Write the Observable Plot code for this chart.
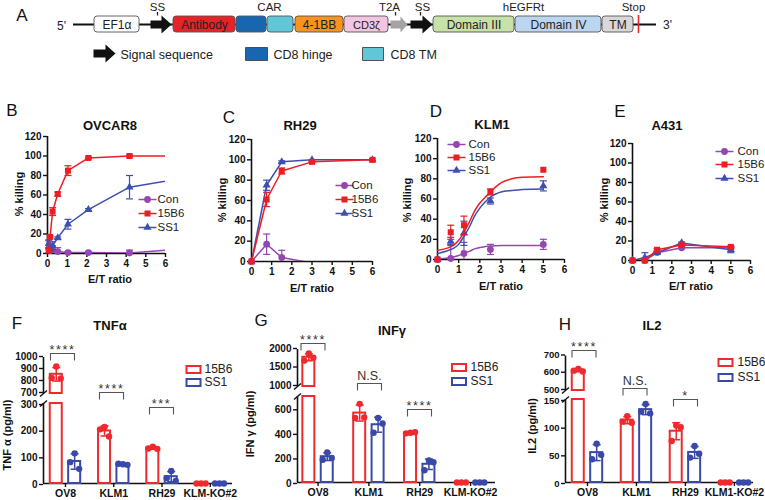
<!DOCTYPE html>
<html><head><meta charset="utf-8">
<script src="https://cdn.jsdelivr.net/npm/d3@7"></script>
<script src="https://cdn.jsdelivr.net/npm/@observablehq/plot@0.6"></script>
<style>
body{margin:0;background:#fff;}
#fig{position:relative;width:765px;height:500px;overflow:hidden;background:#fff;font-family:"Liberation Sans",Arial,sans-serif;color:#111;}
.lbl{position:absolute;white-space:nowrap;line-height:1;}
.panel{position:absolute;}
</style></head><body><div id="fig"></div>
<script>
// ---------------- Panel A: construct ----------------
const partLabels = ["EF1α","Antibody","","","4-1BB","CD3ζ","Domain III","Domain IV","TM"];
const partX1 = [94,173,236,267,295,344,433,515,602];
const partX2 = [139,235,266,293,343,388,514,601,633];
const partFill = ["#ffffff","#e92128","#1866b0","#61c6d6","#f7931e","#f2c6e0","#c7e1a9","#bdd6ef","#d8d8d8"];
const arrowX1 = [150,390,410];
const arrowX2 = [171,407,432];
const arrowFill = ["#111","#a3a3a3","#111"];
const topLabels = ["SS","CAR","T2A","SS","hEGFRt","Stop"];
const topLabelX = [157,269,389,422,523,633];
const topTickX = [157,395,420];
const backbone = [73,656];
const stopX = 638;
const legendA = ["Signal sequence","CD8 hinge","CD8 TM"];

// ---------------- Panels B-E: % killing ----------------
const etTicks = [0,1,2,3,4,5,6];
const pctTicks = [0,20,40,60,80,100,120];
const seriesNames = ["Con","15B6","SS1"];

const ovcarET = [0.065,0.13,0.26,0.52,1.04,2.08,4.17,8.33];
const ovcarCon = [5,3,4,2,1,1,0.5,7];
const ovcarConErr = [8,3,4,4,1,1,3,0];
const ovcar15B6 = [3,17,43,61,85,98,100,100];
const ovcar15B6Err = [2,1,4,2,5,1,1,0];
const ovcarSS1 = [10,5,8,16,30,45,68,82];
const ovcarSS1Err = [4,3,4,1,5,1,12,0];

const rhET = [0,0.75,1.5,3,6];
const rhCon = [0,17,4,-1.5,-1.5];
const rhConErr = [0,10,7,0,0];
const rh15B6 = [0,61,89,98,100];
const rh15B6Err = [0,7,3,1,1];
const rhSS1 = [0,75,98,100,100];
const rhSS1Err = [0,5,1,0,0];

const klmET = [0,0.625,1.25,2.5,5];
const klmCon = [0,1,6,10,15];
const klmConErr = [0,14,11,5,5];
const klm15B6 = [0,27,34,67,89];
const klm15B6Err = [0,7,9,3,0];
const klmSS1 = [0,18,26,58,73];
const klmSS1Err = [0,4,12,3,5];
const klmFitX = [0,0.5,0.75,1,1.25,1.5,1.75,2,2.25,2.5,2.75,3,3.5,4,5];
const klmFitCon = [0.5,1.5,2.5,4,6,8,10.5,12,12.8,13.3,13.6,13.8,14,14,14];
const klmFit15B6 = [9,11.5,14,19,27,37,48,56,61.5,67,72,76,80,81.5,82];
const klmFitSS1 = [6,9,11,15,23,32,43,51,57,62,65,67,68.5,69.5,70];

const a431ET = [0,0.625,1.25,2.5,5];
const a431Con = [0,0,8,13,13];
const a431ConErr = [0,0,1,1,1];
const a43115B6 = [0,0,11,16,14];
const a43115B6Err = [0,0,1,1,1];
const a431SS1 = [0,3,8,18,11];
const a431SS1Err = [0,5,1,1,3];

// ---------------- Panels F-H: cytokines ----------------
const cytoCats = ["OV8","KLM1","RH29","KLM-KO#2"];
const il2Cats = ["OV8","KLM1","RH29","KLM1-KO#2"];
const groupNames = ["15B6","SS1"];
const tnf15B6 = [[830,925,825],[203,212,176],[131,138,130],[0,0,0]];
const tnfSS1 = [[80,113,55],[74,72,70],[20,47,10],[0,0,0]];
const ifn15B6 = [[1700,1890,1780],[525,640,530],[400,405,410],[0,0,0]];
const ifnSS1 = [[185,245,200],[405,525,480],[100,180,165],[0,0,0]];
const il215B6 = [[615,625,610],[110,120,108],[75,103,100],[0,0,0]];
const il2SS1 = [[42,70,50],[128,142,125],[45,66,52],[0,0,0]];
const tnfTicksLow = [0,100,200,300], tnfTicksHigh = [700,800,900,1000];
const ifnTicksLow = [0,200,400,600], ifnTicksHigh = [1000,1500,2000];
const il2TicksLow = [0,50,100,150], il2TicksHigh = [500,600,700];
const tnfSig = ["****","****","***"];
const ifnSig = ["****","N.S.","****"];
const il2Sig = ["****","N.S.","*"];

// ---------------- helpers ----------------
const fig = document.getElementById("fig");
const FONT = "'Liberation Sans', Arial, sans-serif";
const STYLE = {fontFamily: FONT, color: "#111", background: "transparent", overflow: "visible"};
const intFmt = d3.format("d");
function addText(text, x, y, {size=12, weight="normal", rotate=0, anchor="middle", color="#111"} = {}) {
  const d = document.createElement("div");
  d.className = "lbl";
  d.textContent = text;
  d.style.left = x + "px"; d.style.top = y + "px";
  d.style.fontSize = size + "px"; d.style.fontWeight = weight; d.style.color = color;
  const tx = anchor === "start" ? "0" : "-50%";
  d.style.transform = `translate(${tx},-50%)` + (rotate ? ` rotate(${rotate}deg)` : "");
  fig.append(d);
}
function place(svg, left, top) {
  const w = document.createElement("div");
  w.className = "panel"; w.style.left = left + "px"; w.style.top = top + "px";
  w.append(svg); fig.append(w);
}
const hline = w => ({draw(c){ c.moveTo(-w,0); c.lineTo(w,0); }});
const slash = {draw(c){ c.moveTo(-3.5,3); c.lineTo(3.5,-3); }};
const bracketSym = (w,h) => ({draw(c){ c.moveTo(-w/2,h); c.lineTo(-w/2,0); c.lineTo(w/2,0); c.lineTo(w/2,h); }});
const boxSym = (w,h) => ({draw(c){ c.rect(-w/2,-h/2,w,h); }});
const arrowSym = (L, bh=4, hh=9, hl=10) => ({draw(c){
  const a=-L/2, b=L/2;
  c.moveTo(a,-bh); c.lineTo(b-hl,-bh); c.lineTo(b-hl,-hh); c.lineTo(b,0);
  c.lineTo(b-hl,hh); c.lineTo(b-hl,bh); c.lineTo(a,bh); c.closePath();
}});

// ---------------- Panel A ----------------
{
  const parts = partLabels.map((t,i)=>({t, x1:partX1[i], x2:partX2[i], fill:partFill[i]}));
  const marks = [
    Plot.ruleY([24], {x1: ()=>backbone[0], x2: ()=>backbone[1], stroke:"#111", strokeWidth:2}),
    Plot.rect(parts, {x1:"x1", x2:"x2", y1:()=>16, y2:()=>32, fill:"fill", stroke:"#555", strokeWidth:0.9, rx:3}),
    Plot.text(parts.filter(d=>d.t!=="CD3ζ"), {x:d=>(d.x1+d.x2)/2, y:()=>24.5, text:"t", fontSize:12, fill:"#222"}),
    Plot.text(parts.filter(d=>d.t==="CD3ζ"), {x:d=>(d.x1+d.x2)/2, y:()=>24.5, text:"t", fontSize:11, fill:"#222"}),
    Plot.text(topLabels, {x:(d,i)=>topLabelX[i], y:()=>7, text:d=>d, fontSize:11.5, fill:"#222"}),
    Plot.ruleX(topTickX, {x:d=>d, y1:()=>12, y2:()=>15.5, stroke:"#222", strokeWidth:1.3}),
    Plot.ruleX([stopX], {x:d=>d, y1:()=>15, y2:()=>33, stroke:"#e92128", strokeWidth:1.6}),
    Plot.text(["5'"], {x:()=>61, y:()=>26, text:d=>d, fontSize:12, fill:"#222"}),
    Plot.text(["3'"], {x:()=>667, y:()=>25, text:d=>d, fontSize:12, fill:"#222"}),
    Plot.dot([0], {x:()=>104, y:()=>53, symbol:arrowSym(22), fill:"#111", stroke:"none"}),
    Plot.text([legendA[0]], {x:()=>120, y:()=>54, text:d=>d, textAnchor:"start", fontSize:12.5, fill:"#222"}),
    Plot.dot([0], {x:()=>256, y:()=>53.5, symbol:boxSym(22,13), fill:partFill[2], stroke:"#444", strokeWidth:0.9}),
    Plot.text([legendA[1]], {x:()=>273, y:()=>54, text:d=>d, textAnchor:"start", fontSize:12.5, fill:"#222"}),
    Plot.dot([0], {x:()=>372.5, y:()=>53.5, symbol:boxSym(21,13), fill:partFill[3], stroke:"#444", strokeWidth:0.9}),
    Plot.text([legendA[2]], {x:()=>390, y:()=>54, text:d=>d, textAnchor:"start", fontSize:12.5, fill:"#222"})
  ];
  arrowX1.forEach((x1,i)=>{
    const L = arrowX2[i]-x1;
    marks.push(Plot.dot([0], {x:()=>(x1+arrowX2[i])/2, y:()=>24, symbol: i===1 ? arrowSym(L,4,8,7) : arrowSym(L), fill:arrowFill[i], stroke:"none"}));
  });
  const svg = Plot.plot({width:765, height:70, margin:0,
    x:{domain:[0,765], range:[0,765], axis:null}, y:{domain:[0,70], range:[0,70], axis:null}, style:STYLE, marks});
  place(svg, 0, 0);
}

// ---------------- line panels ----------------
const C_CON = "#9447b0", C_B6 = "#ee1d25", C_SS1 = "#3d4faf";
function linePanel(c){
  const sx = d3.scaleLinear([0,6], c.xr), sy = d3.scaleLinear([0,120], c.yr);
  const marks = [
    Plot.ruleY([0], {x1:()=>0, x2:()=>6, strokeWidth:1.6, stroke:"#111"}),
    Plot.ruleX([0], {y1:()=>0, y2:()=>120, strokeWidth:1.6, stroke:"#111"}),
    Plot.axisX(etTicks, {tickSize:4, tickPadding:2, fontSize:10, fontWeight:"bold", strokeWidth:1.4, label:null, tickFormat:intFmt}),
    Plot.axisY(pctTicks, {tickSize:4, tickPadding:2, fontSize:10, fontWeight:"bold", strokeWidth:1.4, label:null, tickFormat:intFmt})
  ];
  for (const k of [0,2,1]) {
    const s = c.series[k];
    const rows = s.x.map((x,i)=>({x, y:s.y[i], e:s.e[i]}));
    const line = s.fitY ? s.fitX.map((x,i)=>({x, y:s.fitY[i]})) : rows;
    marks.push(Plot.line(line, {x:"x", y:"y", stroke:s.color, strokeWidth:1.5, curve: s.fitY ? "monotone-x" : "linear", clip:true}));
    const vis = rows.filter(d=>d.x<=6 && d.y>=0);
    const eb = vis.filter(d=>d.e>0);
    marks.push(Plot.ruleX(eb, {x:"x", y1:d=>Math.max(0,d.y-d.e), y2:d=>d.y+d.e, stroke:s.color, strokeWidth:1.2}));
    const caps = eb.flatMap(d=> d.y-d.e>0 ? [{x:d.x,y:d.y+d.e},{x:d.x,y:d.y-d.e}] : [{x:d.x,y:d.y+d.e}]);
    marks.push(Plot.dot(caps, {x:"x", y:"y", symbol:hline(3.5), stroke:s.color, strokeWidth:1.2, fill:"none"}));
    marks.push(Plot.dot(vis, {x:"x", y:"y", symbol:s.symbol, fill:s.color, stroke:"none", r:s.r}));
  }
  c.series.forEach((s,k)=>{
    const row = [{x:sx.invert(c.lg.mx), y:sy.invert(c.lg.ys[k]), tx:sx.invert(c.lg.tx), name:s.name}];
    marks.push(Plot.dot(row, {x:"x", y:"y", symbol:hline(9), stroke:s.color, strokeWidth:1.5, fill:"none"}));
    marks.push(Plot.dot(row, {x:"x", y:"y", symbol:s.symbol, fill:s.color, stroke:"none", r:s.r}));
    marks.push(Plot.text(row, {x:"tx", y:"y", text:"name", textAnchor:"start", fontSize:11.5, fill:"#222"}));
  });
  const svg = Plot.plot({width:c.w, height:c.h, marginLeft:c.xr[0], marginRight:c.w-c.xr[1], marginTop:c.yr[1], marginBottom:c.h-c.yr[0],
    x:{domain:[0,6], range:c.xr}, y:{domain:[0,120], range:c.yr}, style:STYLE, marks});
  place(svg, c.left, c.top);
}
function mk(x, vals, errs, fitX, fitY){
  const cols = [C_CON, C_B6, C_SS1], syms = ["circle","square","triangle"], rs = [3.4,3.4,3.0];
  return seriesNames.map((n,k)=>({name:n, x, y:vals[k], e:errs[k], color:cols[k], symbol:syms[k], r:rs[k], fitX, fitY: fitY ? fitY[k] : null}));
}
linePanel({left:0, top:110, w:180, h:180, xr:[47,165], yr:[143,26],
  series: mk(ovcarET, [ovcarCon,ovcar15B6,ovcarSS1], [ovcarConErr,ovcar15B6Err,ovcarSS1Err]),
  lg:{mx:147, tx:157, ys:[89,103,117]}});
linePanel({left:190, top:110, w:190, h:180, xr:[61,182], yr:[151,29],
  series: mk(rhET, [rhCon,rh15B6,rhSS1], [rhConErr,rh15B6Err,rhSS1Err]),
  lg:{mx:154, tx:161, ys:[75,89,103]}});
linePanel({left:380, top:110, w:190, h:180, xr:[57,184], yr:[149,28],
  series: mk(klmET, [klmCon,klm15B6,klmSS1], [klmConErr,klm15B6Err,klmSS1Err], klmFitX, [klmFitCon,klmFit15B6,klmFitSS1]),
  lg:{mx:76, tx:88, ys:[34,47,60]}});
linePanel({left:570, top:110, w:195, h:180, xr:[62,180], yr:[150,33],
  series: mk(a431ET, [a431Con,a43115B6,a431SS1], [a431ConErr,a43115B6Err,a431SS1Err]),
  lg:{mx:154, tx:167, ys:[41,54,68]}});

// ---------------- bar panels ----------------
const B_RED = "#ef2a2f", B_BLUE = "#3a49a8";
function barPanel(c){
  const sx = d3.scaleLinear(c.xd, c.xr), sy = d3.scaleLinear(c.yd, c.yr);
  const ppu = (c.xr[1]-c.xr[0])/(c.xd[1]-c.xd[0]);
  const u = px => px/ppu;
  const lowMax = c.yd[1], highMin = c.yd[2], top = c.yd[3];
  const bw = u(12);
  const fs = c.tickFont || 10;
  const marks = [
    Plot.ruleX([c.xd[0]], {x:d=>d, y1:()=>0, y2:()=>lowMax, stroke:"#111", strokeWidth:1.6}),
    Plot.ruleX([c.xd[0]], {x:d=>d, y1:()=>highMin, y2:()=>top, stroke:"#111", strokeWidth:1.6}),
    Plot.dot([lowMax, highMin], {x:()=>c.xd[0], y:d=>d, symbol:slash, stroke:"#111", strokeWidth:1.4, fill:"none"}),
    Plot.ruleY([0], {x1:()=>c.xd[0], x2:()=>c.xd[1], stroke:"#111", strokeWidth:1.6}),
    Plot.axisY(c.ticksLow, {tickSize:4, tickPadding:2, fontSize:fs, fontWeight:"bold", strokeWidth:1.4, label:null, tickFormat:intFmt, dy:1}),
    Plot.axisY(c.ticksHigh, {tickSize:4, tickPadding:2, fontSize:fs, fontWeight:"bold", strokeWidth:1.4, label:null, tickFormat:intFmt, dy:-1}),
    Plot.axisX([0,1,2,3], {tickFormat:i=>c.cats[i], tickSize:4, tickPadding:2, fontSize:10.5, fontWeight:"bold", strokeWidth:1.4, label:null})
  ];
  const colors = [B_RED, B_BLUE];
  c.groups.forEach((reps, gi)=>{
    const col = colors[gi];
    const off = (gi===0 ? -1 : 1) * u(9.2);
    const rows = reps.map((r,i)=>({i, x:i+off, m:d3.mean(r), sd:d3.deviation(r)||0, reps:r}));
    const withBar = rows.filter(d=>d.m>0);
    marks.push(Plot.rect(withBar, {x1:d=>d.x-bw/2, x2:d=>d.x+bw/2, y1:()=>0, y2:d=>Math.min(d.m, lowMax), fill:"#fff", stroke:col, strokeWidth:2}));
    marks.push(Plot.rect(withBar.filter(d=>d.m>highMin), {x1:d=>d.x-bw/2, x2:d=>d.x+bw/2, y1:()=>highMin, y2:d=>d.m, fill:"#fff", stroke:col, strokeWidth:2}));
    const eb = withBar.filter(d=>d.sd>0);
    marks.push(Plot.ruleX(eb, {x:"x", y1:d=>Math.max(0,d.m-d.sd), y2:d=>d.m+d.sd, stroke:col, strokeWidth:1.5}));
    const caps = eb.flatMap(d=>[{x:d.x, y:d.m+d.sd}, {x:d.x, y:Math.max(0,d.m-d.sd)}]);
    marks.push(Plot.dot(caps, {x:"x", y:"y", symbol:hline(4), stroke:col, strokeWidth:1.5, fill:"none"}));
    const pts = rows.flatMap(d=>d.reps.map((v,k)=>({x:d.x+u((k-1)*4.5), y:v})));
    marks.push(Plot.dot(pts, {x:"x", y:"y", r:3.2, fill:col, stroke:"none"}));
    const lrow = [{x:sx.invert(c.lg.bx), y:sy.invert(c.lg.ys[gi]), tx:sx.invert(c.lg.tx), name:groupNames[gi]}];
    marks.push(Plot.dot(lrow, {x:"x", y:"y", symbol:boxSym(14,7), fill:"#fff", stroke:col, strokeWidth:2}));
    marks.push(Plot.text(lrow, {x:"tx", y:"y", text:"name", textAnchor:"start", fontSize:12, fill:"#222"}));
  });
  const br = c.brackets.map((b,i)=>({x:sx.invert(b[0]), y:sy.invert(b[1]), ly:sy.invert(b[1] - (c.sig[i]==="N.S." ? 8 : 3.6)), t:c.sig[i]}));
  marks.push(Plot.dot(br, {x:"x", y:"y", symbol:bracketSym(24,7), stroke:"#555", strokeWidth:1.1, fill:"none"}));
  marks.push(Plot.text(br, {x:"x", y:"ly", text:"t", fontSize:12.5, fill:"#333"}));
  const svg = Plot.plot({width:c.w, height:c.h, marginLeft:c.xr[0], marginRight:c.w-c.xr[1], marginTop:c.yr[3], marginBottom:c.h-c.yr[0],
    x:{type:"linear", domain:c.xd, range:c.xr}, y:{type:"linear", domain:c.yd, range:c.yr}, style:STYLE, marks});
  svg.querySelectorAll("text").forEach(t=>{ if (t.textContent.includes("*")) t.style.letterSpacing = "1.6px"; });
  place(svg, c.left, c.top);
}
barPanel({left:0, top:310, w:255, h:190, xd:[-0.455,3.46], xr:[43,232], yd:[0,300,700,1000], yr:[173,93,83,47],
  ticksLow:tnfTicksLow, ticksHigh:tnfTicksHigh, cats:cytoCats, groups:[tnf15B6, tnfSS1], sig:tnfSig,
  lg:{bx:193, tx:204, ys:[59,72]}, brackets:[[62,43],[111,82],[161,97]]});
barPanel({left:255, top:310, w:255, h:190, xd:[-0.404,3.49], xr:[42,240], yd:[0,700,1000,2000], yr:[172,86,76,39],
  ticksLow:ifnTicksLow, ticksHigh:ifnTicksHigh, cats:cytoCats, groups:[ifn15B6, ifnSS1], sig:ifnSig,
  lg:{bx:203.5, tx:215, ys:[57,71]}, brackets:[[57.5,33],[114,73],[164,99]]});
barPanel({left:505, top:310, w:260, h:190, xd:[-0.449,3.39], xr:[60,248], yd:[0,150,500,700], yr:[172,89,80,45.5],
  ticksLow:il2TicksLow, ticksHigh:il2TicksHigh, cats:il2Cats, groups:[il215B6, il2SS1], sig:il2Sig, tickFont:9.5,
  lg:{bx:220, tx:232, ys:[52,67]}, brackets:[[78.5,40],[129.5,78],[180,89]]});

// ---------------- text overlays ----------------
addText("A", 22, 15, {size:17});
addText("B", 12, 110, {size:17});
addText("C", 229, 117, {size:17});
addText("D", 436, 111, {size:17});
addText("E", 620, 111, {size:17});
addText("F", 17, 323, {size:17});
addText("G", 261, 320, {size:17});
addText("H", 565, 324, {size:17});
addText("OVCAR8", 110, 125, {size:13, weight:"bold"});
addText("RH29", 300, 125, {size:13, weight:"bold"});
addText("KLM1", 492, 124, {size:13, weight:"bold"});
addText("A431", 667, 125, {size:13, weight:"bold"});
addText("TNFα", 110, 325, {size:13, weight:"bold"});
addText("INFγ", 392, 330, {size:13, weight:"bold"});
addText("IL2", 652, 325, {size:13, weight:"bold"});
[[19,194],[222,200],[407,200],[604,200]].forEach(([x,y])=>addText("% killing", x, y, {size:11, weight:"bold", rotate:-90}));
[[110,279],[312,288],[501,286],[691,286]].forEach(([x,y])=>addText("E/T ratio", x, y, {size:11, weight:"bold"}));
addText("TNF α (pg/ml)", 7, 435, {size:11, weight:"bold", rotate:-90});
addText("IFN γ (pg/ml)", 250, 424, {size:11, weight:"bold", rotate:-90});
addText("IL2 (pg/ml)", 532, 426, {size:11, weight:"bold", rotate:-90});
</script></body></html>
